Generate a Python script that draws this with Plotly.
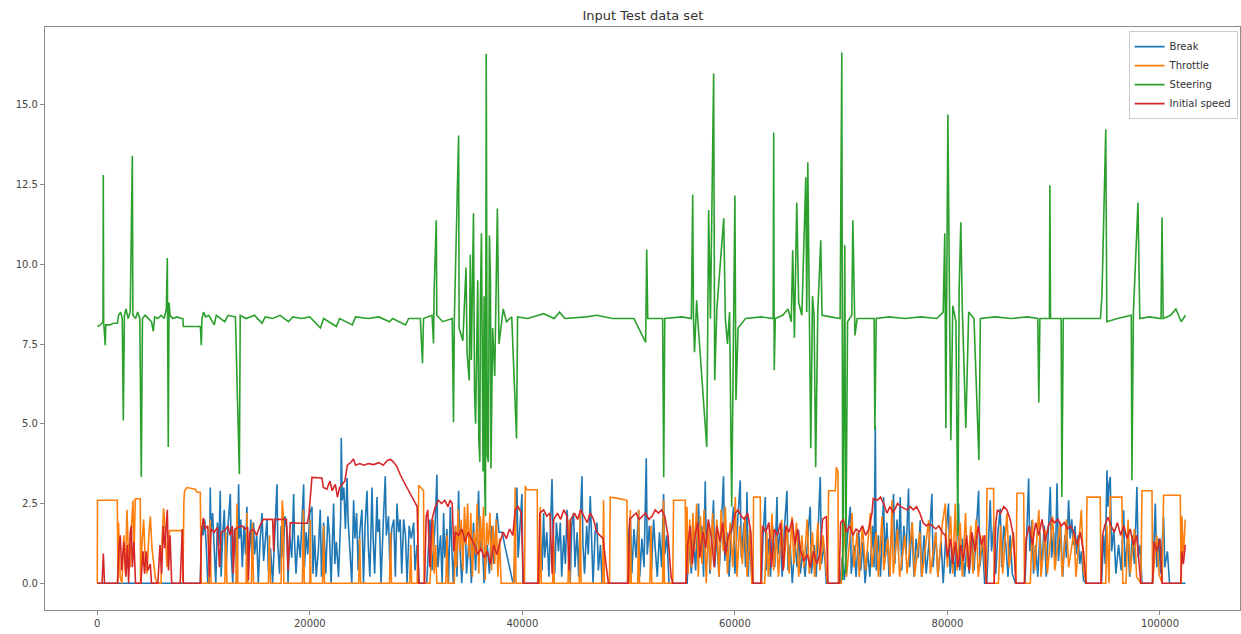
import plotly.graph_objects as go

# x tick labels / y tick labels
x_ticks = [0, 20000, 40000, 60000, 80000, 100000]
y_ticks = [0.0, 2.5, 5.0, 7.5, 10.0, 12.5, 15.0]

# Break (blue) : (sample index, value)
break_pts = [
    (0, 0), (9700, 0), (9800, 1.8), (9950, 1.5), (10100, 2.0), (10250, 1.2), (10400, 0), (10550, 0),
    (10630, 3.0), (10700, 1.6), (10850, 2.2), (11000, 0.9), (11150, 0), (11300, 1.9), (11450, 1.2),
    (11570, 2.9), (11650, 0.2), (11800, 1.5), (11950, 2.3), (12100, 0.3), (12300, 1.8), (12520, 2.8),
    (12600, 0.9), (12750, 0), (12900, 1.7), (13050, 1.0), (13150, 0), (13300, 3.1), (13380, 1.4),
    (13500, 2.0), (13650, 0.5), (13800, 1.8), (13950, 0.9), (14080, 2.4), (14150, 0), (14300, 1.0),
    (14450, 2.0), (14550, 0.6), (14710, 1.9), (14800, 0.9), (15000, 1.5), (15150, 0), (15300, 1.2),
    (15500, 2.2), (15650, 0.7), (15800, 1.3), (15970, 2.0), (16100, 0.4), (16300, 1.1), (16500, 0),
    (16700, 1.6), (16910, 3.1), (16990, 1.2), (17150, 0.3), (17300, 1.8), (17500, 0.8), (17650, 2.1),
    (17850, 1.7), (17950, 0), (18100, 1.5), (18300, 0.8), (18480, 2.8), (18550, 1.4), (18700, 0.3),
    (18900, 1.5), (19100, 0.8), (19250, 1.9), (19420, 3.1), (19500, 0.5), (19650, 1.6), (19800, 0.9),
    (20000, 2.2), (20200, 2.4), (20300, 0.3), (20450, 1.5), (20600, 0.2), (20800, 1.0), (20980, 2.3),
    (21100, 0.2), (21300, 1.9), (21500, 0.3), (21700, 2.1), (21850, 1.5), (22000, 0), (22240, 2.5),
    (22350, 0.6), (22500, 1.3), (22700, 0.2), (22900, 2.0), (22960, 4.55), (23050, 2.6), (23200, 3.0),
    (23350, 1.7), (23500, 3.3), (23600, 2.0), (23800, 1.0), (23950, 0), (24120, 2.6), (24250, 1.4),
    (24400, 2.2), (24550, 0.4), (24700, 1.6), (24900, 2.3), (25050, 0), (25200, 1.8), (25380, 2.9),
    (25500, 1.2), (25650, 0.2), (25850, 3.0), (25950, 1.5), (26100, 0.3), (26320, 2.7), (26400, 1.6),
    (26550, 2.0), (26700, 0), (26900, 1.8), (27100, 3.35), (27200, 1.5), (27400, 2.1), (27550, 0.3),
    (27700, 1.7), (27900, 2.0), (28050, 0.2), (28200, 2.5), (28350, 1.6), (28500, 2.0), (28650, 0.3),
    (28830, 2.0), (29000, 1.5), (29150, 0), (29350, 1.8), (29550, 1.4), (29770, 1.9), (29900, 0.4),
    (30100, 1.2), (30300, 0), (31000, 0), (31300, 2.0), (31500, 0.4), (31800, 1.9), (31960, 3.4),
    (32050, 0.5), (32300, 1.5), (32450, 0), (32590, 2.2), (32700, 0.8), (32900, 1.7), (33050, 0),
    (33220, 2.4), (33350, 1.2), (33500, 0), (33700, 1.8), (33850, 0.2), (34000, 2.9), (34100, 1.3),
    (34300, 0), (34450, 1.2), (34630, 1.7), (34750, 0.3), (35000, 1.5), (35200, 0), (35400, 1.9),
    (35600, 0.4), (35880, 2.9), (36000, 1.0), (36200, 1.5), (36400, 0), (36700, 1.2), (36900, 0.3),
    (37100, 1.8), (37300, 0.6), (37450, 1.5), (37610, 2.2), (37800, 1.6), (38100, 1.6), (38400, 1.1),
    (38700, 0.6), (39050, 0.1), (39200, 0), (39490, 3.0), (39600, 0.8), (39800, 2.0), (39960, 2.8),
    (40050, 0), (41500, 0), (41700, 1.5), (41850, 0.4), (42000, 2.2), (42100, 0.8), (42300, 1.6),
    (42500, 0.2), (42650, 1.8), (42790, 3.27), (42900, 1.4), (43050, 0.3), (43200, 1.9), (43400, 1.0),
    (43570, 1.9), (43700, 0.2), (43900, 1.5), (44050, 0.6), (44200, 2.3), (44350, 1.4), (44500, 0),
    (44650, 1.8), (44820, 2.2), (44950, 0.5), (45150, 1.6), (45300, 0.2), (45450, 2.0), (45610, 3.35),
    (45700, 1.2), (45850, 0.3), (46050, 1.8), (46200, 0.9), (46390, 2.73), (46500, 1.5), (46650, 0),
    (46850, 1.6), (47020, 1.9), (47150, 0.4), (47350, 1.2), (47500, 0), (49900, 0), (50000, 1.5),
    (50160, 2.1), (50300, 0.3), (50500, 1.7), (50700, 0.8), (50940, 2.3), (51050, 0.2), (51250, 1.4),
    (51450, 0.5), (51660, 3.92), (51750, 0.9), (51950, 1.8), (52150, 0.4), (52350, 2.0), (52500, 1.1),
    (52700, 0.2), (52900, 1.6), (53100, 0.5), (53290, 2.8), (53400, 0.9), (53600, 1.5), (53800, 0),
    (55500, 0), (55700, 1.2), (55900, 0.3), (56100, 1.6), (56300, 0.4), (56580, 2.5), (56700, 1.0),
    (56900, 1.8), (57050, 0.2), (57210, 3.2), (57300, 1.2), (57500, 1.9), (57650, 0.3), (57800, 1.4),
    (57990, 2.6), (58100, 0.5), (58300, 1.5), (58500, 0.2), (58700, 1.8), (58930, 3.35), (59050, 0.7),
    (59250, 1.6), (59450, 0.2), (59650, 1.5), (59870, 2.4), (60000, 0.3), (60200, 1.6), (60500, 3.23),
    (60600, 0.8), (60850, 1.9), (61000, 0.5), (61140, 2.86), (61250, 0.2), (61400, 1.5), (61600, 0),
    (62500, 0), (62650, 1.5), (62860, 2.7), (62950, 0.4), (63150, 1.4), (63350, 0.2), (63550, 1.8),
    (63750, 0.5), (63960, 2.7), (64050, 0.9), (64250, 1.6), (64450, 0.2), (64650, 1.7), (64900, 2.9),
    (65000, 0.4), (65200, 1.2), (65400, 0), (65650, 1.3), (65850, 0.5), (66000, 1.66), (66150, 0.3),
    (66400, 1.0), (66600, 0.2), (66850, 1.4), (67090, 2.4), (67200, 0.3), (67450, 1.2), (67650, 0.2),
    (67850, 1.8), (68030, 3.33), (68150, 0.6), (68400, 1.2), (68600, 0), (69900, 0), (70100, 0.8),
    (70300, 0.1), (70600, 1.5), (70860, 2.4), (70950, 0.3), (71200, 1.2), (71400, 0.2), (71650, 1.6),
    (71850, 0.4), (72050, 1.3), (72250, 0), (72500, 1.0), (72700, 0.2), (72950, 1.8), (73100, 0.5),
    (73210, 4.95), (73300, 0.4), (73500, 1.5), (73700, 0.2), (73990, 2.7), (74100, 0.8), (74300, 1.9),
    (74500, 0.2), (74700, 1.6), (74930, 2.8), (75050, 0.6), (75250, 2.0), (75400, 1.0), (75560, 2.7),
    (75700, 0.4), (75900, 1.8), (76100, 0.9), (76340, 2.97), (76450, 0.5), (76650, 1.9), (76850, 0.2),
    (77050, 1.4), (77250, 0.8), (77440, 1.97), (77550, 0.2), (77800, 1.5), (78000, 0.3), (78300, 1.4),
    (78540, 2.8), (78650, 0.5), (78900, 1.6), (79100, 0.2), (79400, 1.3), (79600, 0), (79850, 1.5),
    (80100, 2.5), (80250, 0.3), (80500, 1.1), (80700, 0.2), (81050, 2.5), (81150, 0.4), (81400, 1.4),
    (81600, 0.2), (81850, 1.2), (82050, 0.3), (82300, 1.5), (82500, 0.4), (82700, 1.7), (82930, 2.9),
    (83050, 0.5), (83300, 1.3), (83500, 0), (83700, 0), (84030, 2.6), (84150, 1.0), (84350, 1.8),
    (84550, 0.3), (84750, 1.6), (84970, 2.34), (85100, 0.5), (85300, 1.8), (85500, 1.2), (85700, 0.2),
    (85900, 1.5), (86100, 0.3), (86400, 0), (87300, 0), (87450, 1.4), (87640, 3.28), (87750, 1.0),
    (87950, 1.97), (88100, 0.3), (88300, 1.2), (88500, 0.2), (88700, 1.6), (88900, 0.5), (89100, 1.8),
    (89300, 0.2), (89500, 1.5), (89680, 3.02), (89800, 0.8), (90000, 1.6), (90150, 0.5), (90310, 3.13),
    (90450, 0.7), (90650, 1.8), (90850, 0.2), (91050, 1.5), (91200, 0.8), (91400, 2.6), (91550, 1.4),
    (91700, 2.0), (91850, 1.2), (92000, 1.8), (92150, 0.9), (92300, 1.5), (92450, 0.6), (92600, 1.0),
    (92800, 0.1), (93000, 0), (94500, 0), (94700, 1.5), (94850, 0.6), (95010, 3.54), (95100, 2.4),
    (95200, 3.1), (95320, 3.33), (95450, 1.0), (95650, 1.7), (95850, 0.3), (96100, 1.2), (96350, 0.4),
    (96580, 2.29), (96700, 0.5), (96950, 1.4), (97150, 0.2), (97400, 1.5), (97600, 0.6), (97830, 3.02),
    (97950, 0.8), (98150, 1.2), (98300, 0), (99300, 0), (99400, 1.2), (99560, 2.5), (99700, 0.5),
    (99900, 1.4), (100050, 0.3), (100200, 1.2), (100340, 2.08), (100450, 0.5), (100700, 1.0),
    (100900, 0), (102400, 0),
]

# Throttle (orange)
throttle_pts = [
    (0, 0), (20, 2.6), (1880, 2.6), (1900, 0), (1950, 0), (2000, 1.9), (2150, 0.2), (2320, 0),
    (2500, 1.5), (2650, 0.3), (2790, 2.3), (2900, 1.2), (3100, 0.5), (3250, 2.0), (3360, 2.6),
    (3450, 0.8), (3580, 2.65), (4050, 2.65), (4070, 0), (4200, 1.2), (4360, 2.0), (4500, 0.8),
    (4680, 0.3), (4850, 1.5), (4990, 2.1), (5150, 1.1), (5300, 0.6), (5450, 0.2), (5620, 0),
    (6000, 0), (6100, 1.4), (6240, 2.35), (6400, 1.6), (6560, 0.5), (6650, 1.2), (6800, 1.65),
    (7970, 1.65), (8000, 0), (8060, 0), (8150, 2.6), (8220, 2.9), (8440, 3.0), (9220, 2.95),
    (9380, 2.85), (9690, 2.85), (9790, 0), (10500, 0), (10630, 2.0), (10700, 0), (12000, 0),
    (12100, 1.6), (12200, 0), (13050, 0), (13140, 2.5), (13230, 0), (14000, 0), (14080, 2.2),
    (14150, 0), (14500, 0), (14600, 1.9), (14700, 0), (16100, 0), (16200, 1.5), (16300, 0),
    (17300, 0), (17400, 2.6), (17500, 2.2), (17550, 0), (19300, 0), (19400, 2.3), (19480, 0),
    (20000, 0), (20040, 2.0), (20100, 0), (21200, 0), (21300, 1.8), (21380, 0), (24600, 0),
    (24700, 1.4), (24780, 0), (27500, 0), (27600, 1.6), (27680, 0), (29400, 0), (29500, 1.2),
    (29580, 0), (30100, 0), (30200, 2.0), (30250, 3.07), (30700, 2.9), (30750, 0), (31300, 0),
    (31600, 2.0), (31700, 0.3), (31850, 1.2), (31950, 0), (32800, 0), (32900, 1.5), (33000, 0),
    (33600, 0), (33700, 1.8), (33800, 0.5), (33950, 2.3), (34100, 1.0), (34250, 2.0), (34400, 0.4),
    (34550, 2.4), (34700, 1.2), (34850, 2.5), (35000, 0.8), (35150, 2.2), (35300, 0.2), (35450, 1.6),
    (35600, 0.9), (35750, 2.5), (35900, 0.3), (36050, 2.1), (36200, 1.0), (36350, 2.4), (36500, 0.1),
    (36650, 1.9), (36800, 1.2), (36950, 2.2), (37100, 0.4), (37250, 1.8), (37400, 0.6), (37550, 2.0),
    (37700, 0.2), (37850, 1.4), (38000, 0), (39200, 0), (39330, 3.0), (39400, 0), (40200, 0),
    (40280, 3.05), (40400, 2.93), (41400, 2.93), (41450, 0), (41600, 0), (41690, 2.4), (41780, 0),
    (42850, 0), (42940, 1.5), (43000, 0), (44300, 0), (44400, 2.0), (44480, 0), (45350, 0),
    (45450, 2.3), (45530, 0), (47550, 0), (47640, 2.6), (47720, 0), (48200, 0), (48270, 2.7),
    (49000, 2.66), (49840, 2.6), (49900, 0), (50080, 0), (50160, 2.3), (50240, 0), (50860, 0),
    (50940, 2.3), (51020, 0), (52000, 0), (52100, 1.8), (52180, 0), (53200, 0), (53290, 2.6),
    (53370, 0), (54150, 0), (54230, 2.6), (55330, 2.6), (55400, 0), (55490, 2.4), (55600, 0.3),
    (55750, 2.0), (55900, 0.5), (56050, 2.2), (56200, 1.0), (56400, 2.5), (56550, 0.2), (56750, 2.1),
    (56900, 0.6), (57100, 2.3), (57300, 0), (57500, 1.8), (57700, 0.4), (57900, 2.2), (58100, 0.8),
    (58300, 2.0), (58500, 0.2), (58700, 2.3), (58900, 1.0), (59100, 2.4), (59300, 0.3), (59550, 1.9),
    (59800, 0.5), (60040, 2.7), (60200, 0.2), (60450, 1.8), (60700, 0.6), (60950, 2.1), (61150, 0.2),
    (61400, 1.7), (61600, 0), (61700, 0), (61760, 2.7), (62390, 2.7), (62450, 0), (62800, 0),
    (63000, 1.6), (63150, 0.2), (63490, 2.18), (63650, 0.4), (63900, 1.5), (64100, 0.2), (64400, 2.0),
    (64600, 0.5), (64900, 1.8), (65100, 0.3), (65370, 2.08), (65550, 0.6), (65800, 1.9), (66000, 0.2),
    (66300, 1.5), (66500, 0.5), (66800, 2.0), (67000, 0.3), (67300, 1.6), (67500, 0.2), (67800, 1.9),
    (68000, 0.4), (68300, 1.5), (68700, 0), (68820, 2.9), (69450, 2.9), (69540, 3.64), (69700, 3.5),
    (69730, 0), (70000, 0), (70300, 1.8), (70500, 0.2), (71020, 2.2), (71200, 0.5), (71500, 1.6),
    (71700, 0.2), (72000, 1.8), (72300, 0.4), (72740, 2.2), (72900, 0.5), (73300, 1.6), (73500, 0.2),
    (73840, 2.1), (74000, 0.4), (74400, 1.4), (74600, 0.2), (74780, 2.6), (74900, 0.3), (75300, 1.7),
    (75500, 0.2), (76000, 1.5), (76200, 0.3), (76700, 1.9), (76900, 0.2), (77400, 1.6), (77600, 0.2),
    (78230, 1.97), (78400, 0.3), (78900, 1.6), (79100, 0.2), (79500, 1.8), (79800, 2.5), (80000, 0.5),
    (80300, 2.1), (80500, 0.3), (80740, 2.5), (80900, 0.4), (81200, 1.9), (81400, 0.2), (81700, 2.2),
    (81900, 0.5), (82200, 1.8), (82400, 0.3), (82700, 2.0), (82900, 0.2), (83300, 1.5), (83650, 0),
    (83720, 2.97), (84340, 2.97), (84400, 0), (84800, 0), (85000, 1.8), (85200, 0.3), (85600, 2.2),
    (85800, 0.5), (86200, 1.6), (86450, 0), (86540, 2.82), (87170, 2.82), (87250, 0), (87800, 0),
    (88000, 2.0), (88200, 0.4), (88600, 2.3), (88800, 0.2), (89200, 1.7), (89400, 0.3), (89900, 2.1),
    (90100, 0.4), (90600, 1.9), (90800, 0.2), (91200, 2.0), (91400, 0.5), (91900, 1.6), (92100, 0.2),
    (92600, 2.3), (92800, 0.4), (93050, 0), (93130, 2.7), (94380, 2.7), (94450, 0), (94900, 0),
    (95000, 1.8), (95200, 0), (95320, 2.7), (96420, 2.7), (96500, 0), (96800, 0), (97000, 2.0),
    (97200, 0.3), (97600, 1.7), (97800, 0.2), (98200, 0), (98310, 2.9), (99250, 2.9), (99300, 0),
    (99700, 1.5), (99900, 0.3), (100200, 0), (100340, 2.76), (101910, 2.76), (102000, 0),
    (102070, 2.1), (102200, 0.8), (102380, 2.0),
]

# Steering (green)
steering_pts = [
    (0, 8.05), (300, 8.1), (540, 8.2), (565, 12.8), (600, 8.2), (750, 7.46), (800, 8.1), (1200, 8.1),
    (1500, 8.15), (1900, 8.15), (2000, 8.4), (2200, 8.5), (2350, 8.3), (2450, 5.1), (2550, 8.4),
    (2700, 8.6), (2900, 8.3), (3100, 8.5), (3300, 13.4), (3350, 8.4), (3600, 8.3), (3800, 8.5),
    (4000, 8.3), (4140, 3.33), (4250, 8.3), (4500, 8.4), (4800, 8.3), (5100, 8.2), (5270, 7.9),
    (5400, 8.35), (5700, 8.3), (6000, 8.4), (6300, 8.3), (6500, 8.6), (6590, 10.2), (6620, 8.9),
    (6680, 4.27), (6750, 8.8), (6850, 8.4), (7100, 8.3), (7500, 8.35), (7900, 8.3), (8050, 8.3),
    (8100, 8.05), (9700, 8.05), (9790, 7.46), (9850, 8.3), (10000, 8.5), (10200, 8.35), (10500, 8.4),
    (11000, 8.1), (11200, 8.4), (12000, 8.2), (12300, 8.4), (13000, 8.35), (13370, 3.42),
    (13450, 8.4), (14000, 8.3), (14800, 8.4), (15500, 8.15), (15800, 8.35), (16500, 8.3),
    (17200, 8.4), (18000, 8.2), (18400, 8.35), (19200, 8.3), (20000, 8.35), (21000, 8.0),
    (21300, 8.3), (22500, 8.05), (22800, 8.3), (24000, 8.1), (24300, 8.35), (25500, 8.3),
    (26500, 8.35), (27500, 8.2), (27800, 8.3), (29000, 8.1), (29300, 8.3), (30400, 8.3),
    (30600, 6.9), (30700, 8.3), (31500, 8.4), (31640, 7.52), (31700, 9.2), (31900, 11.38),
    (31950, 8.4), (32500, 8.2), (33400, 8.3), (33520, 5.05), (33600, 8.3), (34000, 14.04),
    (34050, 8.0), (34400, 7.6), (34700, 9.9), (34800, 7.2), (35000, 6.36), (35100, 10.3),
    (35200, 7.0), (35400, 11.6), (35500, 6.0), (35600, 5.0), (35800, 9.5), (35900, 4.5),
    (36000, 3.8), (36050, 8.8), (36150, 10.97), (36300, 3.5), (36400, 9.0), (36450, 3.2),
    (36530, 2.1), (36600, 16.6), (36700, 4.0), (36800, 3.8), (36900, 10.9), (37000, 9.5),
    (37050, 3.6), (37100, 5.0), (37200, 8.0), (37400, 6.5), (37650, 11.75), (37800, 7.5),
    (38200, 8.6), (38500, 8.2), (39000, 8.35), (39450, 4.54), (39550, 8.35), (40500, 8.3),
    (42000, 8.45), (43000, 8.3), (43500, 8.5), (44000, 8.3), (46000, 8.35), (47000, 8.4),
    (48500, 8.3), (50500, 8.3), (51600, 7.55), (51700, 10.46), (51800, 8.3), (53200, 8.3),
    (53300, 3.32), (53400, 8.3), (55000, 8.35), (55900, 8.3), (56030, 12.19), (56100, 8.3),
    (56200, 7.24), (56300, 8.4), (56400, 8.87), (56500, 8.3), (57350, 4.27), (57450, 8.3),
    (57530, 11.7), (57700, 8.3), (58000, 15.98), (58100, 6.36), (58300, 8.6), (58950, 11.44),
    (59100, 8.3), (59300, 7.5), (59500, 8.5), (59700, 2.4), (59800, 5.5), (59900, 8.3),
    (60000, 12.16), (60100, 5.74), (60300, 8.0), (61000, 8.3), (62500, 8.35), (63600, 8.3),
    (63650, 14.13), (63700, 6.68), (63800, 8.3), (64500, 8.4), (65000, 8.6), (65300, 8.2),
    (65440, 10.44), (65600, 7.7), (65820, 11.94), (66000, 8.8), (66300, 8.4), (66670, 12.73),
    (66760, 8.5), (66860, 13.2), (67000, 8.9), (67140, 4.23), (67300, 9.0), (67450, 8.4),
    (67600, 3.64), (67800, 8.5), (68080, 10.75), (68200, 8.4), (69000, 8.35), (69900, 8.3),
    (70060, 16.64), (70150, 0.1), (70340, 10.6), (70430, 0.3), (70600, 8.2), (71000, 8.4),
    (71100, 11.38), (71300, 7.77), (71500, 8.3), (72500, 8.3), (73100, 8.3), (73170, 4.8),
    (73300, 8.3), (74500, 8.35), (76000, 8.3), (77500, 8.35), (79000, 8.3), (79600, 8.5),
    (79750, 10.97), (79850, 4.86), (80040, 14.7), (80200, 8.6), (80320, 4.48), (80500, 8.7),
    (80800, 8.2), (80980, 1.5), (81100, 9.18), (81260, 11.32), (81400, 8.6), (81730, 4.86),
    (82000, 8.5), (82500, 8.3), (82960, 3.86), (83100, 8.3), (84500, 8.35), (86000, 8.3),
    (87500, 8.35), (88500, 8.3), (88600, 5.67), (88700, 8.3), (89600, 8.3), (89640, 12.48),
    (89700, 8.3), (90700, 8.3), (90770, 2.7), (90900, 8.3), (92500, 8.3), (94400, 8.3),
    (94540, 9.03), (94900, 14.23), (95000, 8.2), (96000, 8.3), (97300, 8.4), (97360, 3.23),
    (97500, 8.5), (97930, 11.94), (98100, 8.3), (99000, 8.35), (100100, 8.3), (100190, 11.47),
    (100300, 8.3), (101000, 8.4), (101500, 8.6), (102000, 8.2), (102400, 8.4),
]

# Initial speed (red)
speed_pts = [
    (0, 0), (450, 0), (570, 0.93), (680, 0), (1900, 0), (2050, 1.2), (2160, 1.5), (2300, 0.4),
    (2500, 1.3), (2700, 0.2), (2820, 1.2), (2950, 0), (3100, 1.6), (3200, 1.8), (3300, 0.5),
    (3450, 1.3), (3600, 0), (4100, 0), (4300, 1.0), (4450, 0.3), (4610, 1.0), (4750, 0.4),
    (4990, 0.6), (5100, 0), (5700, 0), (5900, 1.2), (6050, 0.3), (6210, 1.8), (6350, 1.1),
    (6590, 2.3), (6700, 0.4), (6850, 1.5), (7000, 0), (7800, 0), (8000, 1.7), (8100, 0), (9700, 0),
    (9800, 1.5), (9970, 2.05), (10150, 1.7), (10400, 1.8), (10550, 0.2), (10700, 1.7), (11000, 1.6),
    (11300, 1.75), (11500, 0.5), (11650, 1.6), (12000, 1.65), (12300, 1.8), (12500, 1.5),
    (12700, 1.8), (12800, 0.3), (12950, 1.7), (13300, 1.75), (13600, 1.8), (13900, 1.7),
    (14150, 1.75), (14220, 0.1), (14350, 1.6), (14700, 1.7), (15000, 1.5), (15300, 1.8),
    (15620, 2.0), (16500, 2.0), (16600, 1.0), (16700, 2.0), (17800, 2.0), (17950, 0.4),
    (18160, 1.9), (19000, 1.88), (19760, 1.88), (19900, 2.1), (20100, 3.0), (20200, 3.32),
    (21140, 3.3), (21270, 3.0), (21600, 2.95), (21900, 3.2), (22100, 2.9), (22400, 3.1),
    (22600, 2.7), (22800, 3.0), (23300, 3.2), (23530, 3.7), (23900, 3.8), (24100, 3.9),
    (24300, 3.7), (24700, 3.75), (25100, 3.7), (25500, 3.75), (26000, 3.72), (26500, 3.78),
    (26900, 3.7), (27300, 3.85), (27600, 3.88), (27880, 3.8), (28200, 3.65), (28510, 3.4),
    (28900, 3.15), (29140, 3.0), (29500, 2.75), (29770, 2.6), (30100, 2.4), (30250, 0),
    (30800, 0), (30950, 2.1), (31100, 2.3), (31300, 0.5), (31500, 2.0), (31800, 2.4), (32100, 2.6),
    (32400, 2.5), (32700, 2.6), (33000, 2.4), (33200, 2.6), (33400, 2.5), (33550, 1.0),
    (33700, 1.6), (34000, 1.5), (34300, 1.7), (34600, 1.3), (34900, 1.6), (35200, 1.4),
    (35500, 1.2), (35800, 0.9), (36100, 1.1), (36400, 0.8), (36700, 1.0), (37000, 0.6),
    (37300, 1.2), (37600, 0.9), (37900, 1.3), (38200, 1.6), (38500, 1.4), (38800, 1.7),
    (39100, 1.5), (39330, 2.3), (39600, 2.4), (39900, 2.2), (40100, 0), (41500, 0), (41650, 2.2),
    (42000, 2.3), (42300, 2.1), (42600, 2.2), (42800, 0.3), (42950, 2.0), (43300, 2.2),
    (43600, 2.0), (43900, 2.3), (44200, 2.1), (44400, 0.4), (44550, 2.0), (44900, 2.2),
    (45200, 2.0), (45500, 2.3), (45800, 2.1), (46100, 1.9), (46400, 2.2), (46700, 2.0),
    (47000, 1.6), (47300, 1.5), (47600, 1.4), (47900, 0.5), (48100, 0), (49950, 0), (50100, 2.0),
    (50400, 2.1), (50700, 2.2), (51000, 2.0), (51300, 2.1), (51600, 2.2), (51900, 2.0),
    (52200, 2.1), (52500, 2.3), (52800, 2.2), (53100, 2.3), (53400, 2.1), (53700, 1.5),
    (54000, 0.2), (54150, 0), (55400, 0), (55550, 1.2), (55800, 1.8), (56000, 0.6), (56250, 1.5),
    (56500, 1.9), (56700, 0.8), (57000, 1.6), (57250, 1.1), (57500, 2.0), (57800, 1.4),
    (58050, 0.5), (58300, 1.8), (58600, 1.3), (58850, 1.9), (59100, 0.9), (59400, 1.5),
    (59700, 1.7), (60040, 2.2), (60300, 2.3), (60600, 2.1), (60900, 2.0), (61200, 2.2),
    (61500, 1.6), (61700, 0), (62450, 0), (62600, 1.8), (62900, 1.6), (63200, 1.9), (63450, 0.5),
    (63700, 1.7), (64000, 1.5), (64300, 1.9), (64550, 0.4), (64800, 1.8), (65100, 1.6),
    (65400, 2.0), (65650, 1.2), (65900, 1.7), (66200, 1.0), (66500, 0.7), (66800, 0.9),
    (67100, 0.5), (67400, 1.0), (67700, 0.6), (68000, 0.9), (68250, 2.0), (68600, 2.1),
    (68750, 0), (69800, 0), (69950, 1.9), (70200, 2.0), (70500, 1.6), (70800, 1.8), (71100, 1.5),
    (71400, 1.7), (71700, 1.6), (72000, 1.8), (72300, 1.5), (72600, 1.7), (72900, 2.2),
    (73020, 2.66), (73400, 2.6), (73700, 2.7), (74000, 2.5), (74300, 2.2), (74600, 2.4),
    (74900, 2.2), (75300, 2.5), (75600, 2.4), (75900, 2.35), (76200, 2.3), (76500, 2.4),
    (76800, 2.3), (77100, 2.4), (77400, 2.2), (77700, 1.9), (78000, 1.8), (78300, 1.85),
    (78600, 1.8), (78900, 1.7), (79200, 1.8), (79500, 1.6), (79800, 1.5), (80000, 0.8),
    (80300, 1.4), (80500, 0.6), (80750, 1.3), (81000, 0.5), (81250, 1.2), (81500, 0.7),
    (81800, 1.5), (82050, 0.4), (82300, 1.6), (82600, 1.0), (82900, 1.8), (83200, 1.2),
    (83500, 1.5), (83650, 0), (84400, 0), (84550, 1.9), (84700, 2.3), (85000, 2.2), (85300, 2.4),
    (85600, 2.3), (85900, 2.0), (86200, 1.5), (86450, 0), (87250, 0), (87400, 1.4), (87700, 1.8),
    (88000, 1.2), (88300, 1.9), (88600, 1.5), (88900, 2.0), (89200, 1.3), (89500, 1.8),
    (89800, 2.0), (90100, 1.9), (90400, 2.0), (90700, 1.8), (91000, 1.9), (91300, 1.7),
    (91600, 1.8), (91900, 1.6), (92200, 1.2), (92500, 1.6), (92800, 1.0), (93050, 0), (94450, 0),
    (94600, 1.5), (94800, 1.8), (95100, 2.07), (95400, 1.8), (95700, 1.6), (96000, 1.9),
    (96300, 1.5), (96600, 1.8), (96900, 1.4), (97200, 1.7), (97500, 1.2), (97800, 1.5), (98200, 0),
    (99300, 0), (99450, 1.3), (99700, 1.0), (100000, 1.4), (100200, 0), (101950, 0),
    (102050, 1.0), (102200, 0.6), (102380, 1.2),
]

series = [
    ('Break', break_pts, '#1f77b4'),
    ('Throttle', throttle_pts, '#ff7f0e'),
    ('Steering', steering_pts, '#2ca02c'),
    ('Initial speed', speed_pts, '#d62728'),
]

fig = go.Figure()
for name, pts, color in series:
    xs, ys = zip(*pts)
    fig.add_trace(go.Scatter(x=list(xs), y=list(ys), mode='lines', name=name,
                             line=dict(color=color, width=1.6)))

axis_style = dict(showgrid=False, zeroline=False, showline=True, mirror=True,
                  linecolor='#8c8c8c', linewidth=1.2, ticks='outside', ticklen=4,
                  tickcolor='#8c8c8c', tickfont=dict(size=10, color='#444'))

fig.update_layout(
    width=1241, height=634,
    margin=dict(l=45, r=1, t=27, b=24),
    paper_bgcolor='white', plot_bgcolor='white',
    font=dict(family='DejaVu Sans', color='#333'),
    title=dict(text='Input Test data set', x=0.518, xanchor='center', y=0.976, yanchor='middle',
               font=dict(size=13, color='#333')),
    showlegend=True,
    legend=dict(x=0.998, y=0.993, xanchor='right', yanchor='top', bgcolor='rgba(255,255,255,0.85)',
                bordercolor='#cccccc', borderwidth=1, font=dict(size=10, color='#333'),
                itemwidth=30),
)
fig.update_xaxes(range=[-4920, 107530], tickvals=x_ticks, ticktext=[str(v) for v in x_ticks], **axis_style)
fig.update_yaxes(range=[-0.84, 17.44], tickvals=y_ticks, ticktext=['%.1f' % v for v in y_ticks], **axis_style)

# drop the default 8px body margin so the figure sits at the page origin
fig.write_html("out.html", config={'displayModeBar': False},
               post_script="document.body.style.margin='0';")
